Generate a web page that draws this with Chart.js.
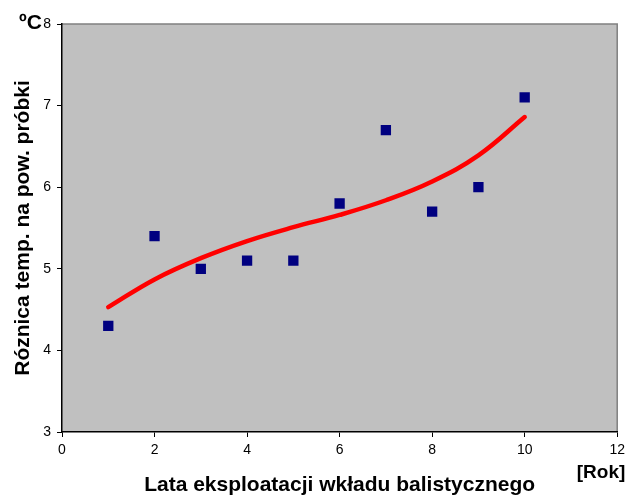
<!DOCTYPE html>
<html lang="pl">
  <head>
    <meta charset="UTF-8" />
    <title>scatter</title>
    <script src="https://cdn.jsdelivr.net/npm/chart.js@4.4.1/dist/chart.umd.min.js"></script>
    <style>
      body { margin: 0; background: #fff; }
    </style>
  </head>
  <body>
    <canvas id="chart" width="630" height="495"></canvas>

    <script>
      //data
      const years = [1, 2, 3, 4, 5, 6, 7, 8, 9, 10];
      const temps = [4.3, 5.4, 5.0, 5.1, 5.1, 5.8, 6.7, 5.7, 6.0, 7.1];
      // trend curve
      const trendYears = [1, 2, 3, 4, 5, 6, 7, 8, 9, 10];
      const trendTemps = [4.53, 4.87, 5.13, 5.34, 5.51, 5.66, 5.84, 6.07, 6.39, 6.86];
      const xTicks = [0, 2, 4, 6, 8, 10, 12];
      const yTicks = [3, 4, 5, 6, 7, 8];

      const FONT = 'Arial, "Liberation Sans", sans-serif';

      //plugin: plot background, frame and free texts
      const decor = {
        id: 'decor',
        beforeDraw(chart) {
          const { ctx, chartArea: a } = chart;
          ctx.save();
          ctx.fillStyle = '#fff';
          ctx.fillRect(0, 0, chart.width, chart.height);
          ctx.fillStyle = '#c0c0c0';
          ctx.fillRect(a.left, a.top, a.right - a.left, a.bottom - a.top);
          ctx.strokeStyle = '#808080';
          ctx.lineWidth = 1.5;
          ctx.beginPath();
          ctx.moveTo(a.left, a.top);
          ctx.lineTo(a.right, a.top);
          ctx.lineTo(a.right, a.bottom);
          ctx.stroke();
          ctx.restore();
        },
        afterDraw(chart) {
          const { ctx, chartArea: a } = chart;
          ctx.save();
          ctx.fillStyle = '#000';
          ctx.font = 'bold 21px ' + FONT;
          ctx.textAlign = 'center';
          ctx.textBaseline = 'alphabetic';
          ctx.fillText('Lata eksploatacji wkładu balistycznego', (a.left + a.right) / 2, 491);
          ctx.font = 'bold 19px ' + FONT;
          ctx.fillText('[Rok]', 601, 478);
          ctx.textAlign = 'left';
          ctx.font = 'bold 21px ' + FONT;
          ctx.fillText('ºC', 19, 29);
          ctx.translate(29, (a.top + a.bottom) / 2);
          ctx.rotate(-Math.PI / 2);
          ctx.textAlign = 'center';
          ctx.font = 'bold 21px ' + FONT;
          ctx.fillText('Róznica temp. na pow. próbki', 0, 0);
          ctx.restore();
        }
      };

      //config
      const config = {
        type: 'scatter',
        data: {
          datasets: [
            {
              label: 'pomiary',
              data: years.map((x, i) => ({ x: x, y: temps[i] })),
              backgroundColor: '#000080',
              borderColor: '#000080',
              borderWidth: 0,
              pointStyle: 'rect',
              pointRadius: 7.3,
              pointHoverRadius: 7.3
            },
            {
              type: 'line',
              label: 'trend',
              data: trendYears.map((x, i) => ({ x: x, y: trendTemps[i] })),
              borderColor: '#ff0000',
              borderWidth: 4.5,
              borderCapStyle: 'round',
              fill: false,
              pointRadius: 0,
              tension: 0.4
            }
          ]
        },
        options: {
          responsive: false,
          animation: false,
          layout: { padding: { top: 24, right: 11, left: 0, bottom: 0 } },
          plugins: {
            legend: { display: false },
            tooltip: { enabled: false }
          },
          scales: {
            x: {
              type: 'linear',
              min: 0,
              max: 12,
              afterFit(scale) { scale.height = 63; },
              afterBuildTicks(scale) { scale.ticks = xTicks.map(v => ({ value: v })); },
              grid: { drawOnChartArea: false, drawTicks: true, tickLength: 5, color: '#000' },
              border: { display: true, color: '#000', width: 1.5 },
              ticks: { color: '#000', font: { family: FONT, size: 14 }, padding: 5, maxRotation: 0 }
            },
            y: {
              type: 'linear',
              min: 3,
              max: 8,
              afterFit(scale) { scale.width = 62; },
              afterBuildTicks(scale) { scale.ticks = yTicks.map(v => ({ value: v })); },
              grid: { drawOnChartArea: false, drawTicks: true, tickLength: 5, color: '#000' },
              border: { display: true, color: '#000', width: 1.5 },
              ticks: { color: '#000', font: { family: FONT, size: 14 }, padding: 6 }
            }
          }
        },
        plugins: [decor]
      };

      //init
      const chart = new Chart(document.getElementById('chart'), config);
    </script>
  </body>
</html>
